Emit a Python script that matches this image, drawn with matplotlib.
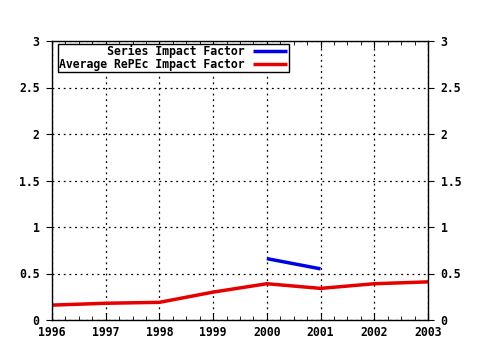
import matplotlib
matplotlib.use("Agg")
import matplotlib.pyplot as plt
from matplotlib.ticker import MultipleLocator

matplotlib.rcParams["font.family"] = "DejaVu Sans Mono"
matplotlib.rcParams["font.weight"] = "bold"
matplotlib.rcParams["font.size"] = 8.3

years = [1996, 1997, 1998, 1999, 2000, 2001, 2002, 2003]
avg_repec = [0.16, 0.18, 0.19, 0.30, 0.39, 0.34, 0.39, 0.41]

series_years = [2000, 2001]
series_if = [0.66, 0.55]

labels = ["Series Impact Factor", "Average RePEc Impact Factor"]

fig = plt.figure(figsize=(4.8, 3.5), dpi=100)
ax = fig.add_axes([52 / 480, 30 / 350, 376 / 480, 279 / 350])

width = max(len(s) for s in labels)
ax.plot(series_years, series_if, color="#0000e6", lw=2.5,
        label=labels[0].rjust(width), solid_capstyle="butt")
ax.plot(years, avg_repec, color="#e60000", lw=2.5,
        label=labels[1].rjust(width), solid_capstyle="butt")

ax.set_xlim(1996, 2003)
ax.set_ylim(0, 3)
ax.xaxis.set_major_locator(MultipleLocator(1))
ax.xaxis.set_minor_locator(MultipleLocator(0.25))
ax.set_yticks([0, 0.5, 1, 1.5, 2, 2.5, 3])
ax.set_yticklabels(["0", "0.5", "1", "1.5", "2", "2.5", "3"])

ax.tick_params(axis="x", which="both", direction="in", top=True, pad=4)
ax.tick_params(axis="x", which="major", length=5)
ax.tick_params(axis="x", which="minor", length=3)
ax.tick_params(axis="y", which="both", direction="out", left=True, right=True,
               labelright=True, length=4, pad=5)

ax.grid(True, which="major", color="black", linestyle=(0, (1.5, 3)), lw=0.9)
for s in ax.spines.values():
    s.set_linewidth(1)
    s.set_color("black")

leg = ax.legend(loc="upper left", bbox_to_anchor=(0.016, 0.989), borderaxespad=0,
                markerfirst=False, fancybox=False, framealpha=1, edgecolor="black",
                handlelength=3.0, handletextpad=0.7, borderpad=0.1, labelspacing=-0.05)
leg.get_frame().set_linewidth(1)

fig.savefig("out.png", dpi=100)
